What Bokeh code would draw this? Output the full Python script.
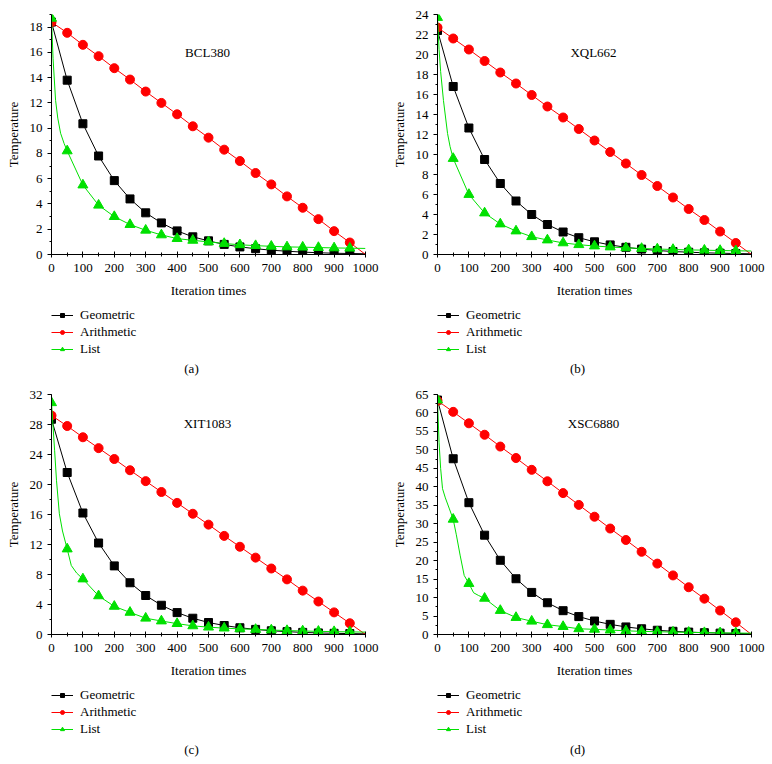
from bokeh.plotting import figure
from bokeh.layouts import column, row
from bokeh.models import Range1d, SingleIntervalTicker, Legend, LegendItem, Label
from bokeh.embed import file_html
from bokeh.resources import INLINE

# ---------------- data ----------------
iter_x = [0, 50, 100, 150, 200, 250, 300, 350, 400, 450, 500,
          550, 600, 650, 700, 750, 800, 850, 900, 950, 1000]

series_names = ["Geometric", "Arithmetic", "List"]
panel_names = ["BCL380", "XQL662", "XIT1083", "XSC6880"]
captions = ["(a)", "(b)", "(c)", "(d)"]
y_max = [19, 24, 32, 65]
y_tick_step = [2, 2, 4, 5]

a_geo = [18.4, 13.8, 10.35, 7.8, 5.85, 4.4, 3.3, 2.5, 1.87, 1.4, 1.08,
         0.8, 0.6, 0.46, 0.34, 0.26, 0.19, 0.14, 0.1, 0.08, 0.06]
a_ari = [18.4, 17.55, 16.6, 15.7, 14.75, 13.85, 12.9, 12.0, 11.1, 10.15, 9.25,
         8.3, 7.4, 6.45, 5.55, 4.6, 3.7, 2.8, 1.85, 0.95, 0.0]
a_list = [18.7, 8.2, 5.5, 3.9, 3.0, 2.37, 1.92, 1.55, 1.26, 1.12, 1.0,
          0.87, 0.77, 0.7, 0.65, 0.6, 0.58, 0.55, 0.52, 0.5, 0.48]
a_early_x = [5, 13, 20, 29, 40]
a_early_y = [15.5, 12.2, 10.8, 9.6, 8.8]

b_geo = [22.4, 16.8, 12.65, 9.5, 7.1, 5.35, 4.0, 3.0, 2.25, 1.68, 1.27,
         0.96, 0.72, 0.54, 0.4, 0.3, 0.23, 0.17, 0.13, 0.1, 0.07]
b_ari = [22.7, 21.6, 20.5, 19.35, 18.2, 17.1, 15.95, 14.8, 13.7, 12.55, 11.4,
         10.25, 9.1, 7.95, 6.85, 5.7, 4.55, 3.45, 2.3, 1.15, 0.0]
b_list = [23.7, 9.6, 6.0, 4.15, 3.05, 2.35, 1.78, 1.45, 1.16, 0.98, 0.85,
          0.75, 0.67, 0.6, 0.55, 0.5, 0.46, 0.43, 0.4, 0.37, 0.35]
b_early_x = [5, 10, 19, 32, 40]
b_early_y = [20.5, 18.3, 15.4, 12.1, 10.8]

c_geo = [28.7, 21.6, 16.2, 12.2, 9.15, 6.9, 5.2, 3.9, 2.92, 2.17, 1.6,
         1.2, 0.9, 0.68, 0.5, 0.38, 0.28, 0.21, 0.16, 0.12, 0.09]
c_ari = [29.2, 27.8, 26.3, 24.85, 23.4, 21.9, 20.45, 19.0, 17.55, 16.1, 14.65,
         13.15, 11.7, 10.25, 8.8, 7.35, 5.85, 4.4, 2.95, 1.5, 0.0]
c_list = [30.9, 11.4, 7.4, 5.15, 3.75, 2.95, 2.17, 1.8, 1.45, 1.15, 0.98,
          0.85, 0.75, 0.67, 0.6, 0.52, 0.47, 0.42, 0.38, 0.35, 0.32]
c_early_x = [10, 16, 25, 35, 63, 80]
c_early_y = [24.5, 20.5, 16.1, 13.8, 9.2, 8.2]

d_geo = [63.5, 47.6, 35.7, 26.9, 20.1, 15.1, 11.4, 8.6, 6.45, 4.85, 3.65,
         2.75, 2.05, 1.55, 1.15, 0.87, 0.65, 0.49, 0.37, 0.28, 0.2]
d_ari = [63.3, 60.3, 57.2, 54.1, 50.9, 47.8, 44.6, 41.5, 38.3, 35.1, 31.9,
         28.7, 25.6, 22.4, 19.2, 16.0, 12.8, 9.7, 6.5, 3.3, 0.0]
d_list = [63.5, 31.2, 13.8, 9.8, 6.5, 4.6, 3.6, 2.65, 2.15, 1.55, 1.4,
          1.2, 1.0, 0.85, 0.75, 0.65, 0.58, 0.5, 0.45, 0.4, 0.35]
d_early_x = [5, 10, 16, 25, 38, 60, 72, 85, 115, 130]
d_early_y = [52, 45, 39.5, 37, 34, 27, 21.5, 16, 11.3, 10.6]

# ---------------- style ----------------
FONT = "Liberation Serif"
COLORS = ["#000000", "#ff0000", "#00e000"]
MARKERS = ["square", "circle", "triangle"]
MSIZE = [8, 9, 10]
LEG_MSIZE = [6, 7, 7]


def series_arrays(geo, ari, lst, ex, ey):
    pairs = sorted(list(zip(iter_x, lst)) + list(zip(ex, ey)))
    lx = [q[0] for q in pairs]
    ly = [q[1] for q in pairs]
    lines = [(iter_x, geo), (iter_x, ari), (lx, ly)]
    marks = [(iter_x[:-1], geo[:-1]), (iter_x[:-1], ari[:-1]), (iter_x[:-1], lst[:-1])]
    return lines, marks


def make_panel(idx, geo, ari, lst, ex, ey, title_dy):
    p = figure(width=386, height=300, x_range=Range1d(0, 1000),
               y_range=Range1d(0, y_max[idx]), output_backend="svg",
               toolbar_location=None, title=None,
               min_border_left=51, min_border_right=21,
               min_border_top=14, min_border_bottom=46)
    p.outline_line_color = None
    p.grid.visible = False
    p.background_fill_color = "white"
    p.border_fill_color = "white"

    xa = p.xaxis[0]
    xa.ticker = SingleIntervalTicker(interval=100, num_minor_ticks=2)
    ya = p.yaxis[0]
    ya.ticker = SingleIntervalTicker(interval=y_tick_step[idx], num_minor_ticks=2)
    for ax in (xa, ya):
        ax.axis_line_color = "black"
        ax.major_tick_line_color = "black"
        ax.minor_tick_line_color = "black"
        ax.major_label_text_color = "black"
        ax.major_label_text_font = FONT
        ax.major_label_text_font_size = "13px"
        ax.axis_label_text_font = FONT
        ax.axis_label_text_font_size = "13px"
        ax.axis_label_text_font_style = "normal"
        ax.axis_label_text_color = "black"
    xa.axis_label = "Iteration times"
    xa.major_tick_in = 3
    xa.major_tick_out = 3
    xa.minor_tick_in = 2
    xa.minor_tick_out = 2
    xa.major_label_standoff = 6
    xa.axis_label_standoff = 8
    ya.axis_label = "Temperature"
    ya.major_tick_in = 0
    ya.major_tick_out = 4
    ya.minor_tick_in = 0
    ya.minor_tick_out = 2
    ya.major_label_standoff = 5
    ya.axis_label_standoff = 6

    lines, marks = series_arrays(geo, ari, lst, ex, ey)
    for k in range(3):
        p.line(lines[k][0], lines[k][1], line_color=COLORS[k], line_width=1)
        p.scatter(marks[k][0], marks[k][1], marker=MARKERS[k], size=MSIZE[k],
                  fill_color=COLORS[k], line_color=COLORS[k])

    p.add_layout(Label(x=156, y=240 - title_dy, x_units="screen", y_units="screen",
                       text=panel_names[idx], text_align="center", text_baseline="middle",
                       text_font=FONT, text_font_size="13px", text_color="black"))
    return p


def make_legend_panel(idx, geo, ari, lst, ex, ey, height, cap_dy):
    # same series, range placed so that only the legend shows
    q = figure(width=386, height=height, x_range=Range1d(-3, -2), y_range=Range1d(-3, -2),
               output_backend="svg", toolbar_location=None, title=None,
               x_axis_type=None, y_axis_type=None,
               min_border_left=0, min_border_right=0, min_border_top=0, min_border_bottom=0)
    q.outline_line_color = None
    q.grid.visible = False
    q.background_fill_color = "white"
    q.border_fill_color = "white"
    lines, marks = series_arrays(geo, ari, lst, ex, ey)
    items = []
    for k in range(3):
        lr = q.line(lines[k][0], lines[k][1], line_color=COLORS[k], line_width=1)
        sr = q.scatter(marks[k][0], marks[k][1], marker=MARKERS[k], size=LEG_MSIZE[k],
                       fill_color=COLORS[k], line_color=COLORS[k])
        items.append(LegendItem(label=series_names[k], renderers=[lr, sr]))
    legend = Legend(items=items, location=(0, height - 51 - 6.5), orientation="vertical",
                    padding=0, margin=0, spacing=0, label_height=17, glyph_height=10,
                    glyph_width=22, label_standoff=7, border_line_color=None,
                    background_fill_alpha=0, label_text_font=FONT,
                    label_text_font_size="13px", label_text_color="black")
    q.add_layout(legend)
    q.add_layout(Label(x=140, y=height - cap_dy, x_units="screen", y_units="screen",
                       text=captions[idx], text_align="center", text_baseline="middle",
                       text_font=FONT, text_font_size="13px", text_color="black"))
    return q


pa = make_panel(0, a_geo, a_ari, a_list, a_early_x, a_early_y, 38)
pb = make_panel(1, b_geo, b_ari, b_list, b_early_x, b_early_y, 38)
pc = make_panel(2, c_geo, c_ari, c_list, c_early_x, c_early_y, 29)
pd = make_panel(3, d_geo, d_ari, d_list, d_early_x, d_early_y, 29)

la = make_legend_panel(0, a_geo, a_ari, a_list, a_early_x, a_early_y, 80, 68)
lb = make_legend_panel(1, b_geo, b_ari, b_list, b_early_x, b_early_y, 80, 68)
lc = make_legend_panel(2, c_geo, c_ari, c_list, c_early_x, c_early_y, 84, 69)
ld = make_legend_panel(3, d_geo, d_ari, d_list, d_early_x, d_early_y, 84, 69)

layout = column(row(column(pa, la), column(pb, lb)),
                row(column(pc, lc), column(pd, ld)))
open("out.html", "w").write(file_html(layout, INLINE))
